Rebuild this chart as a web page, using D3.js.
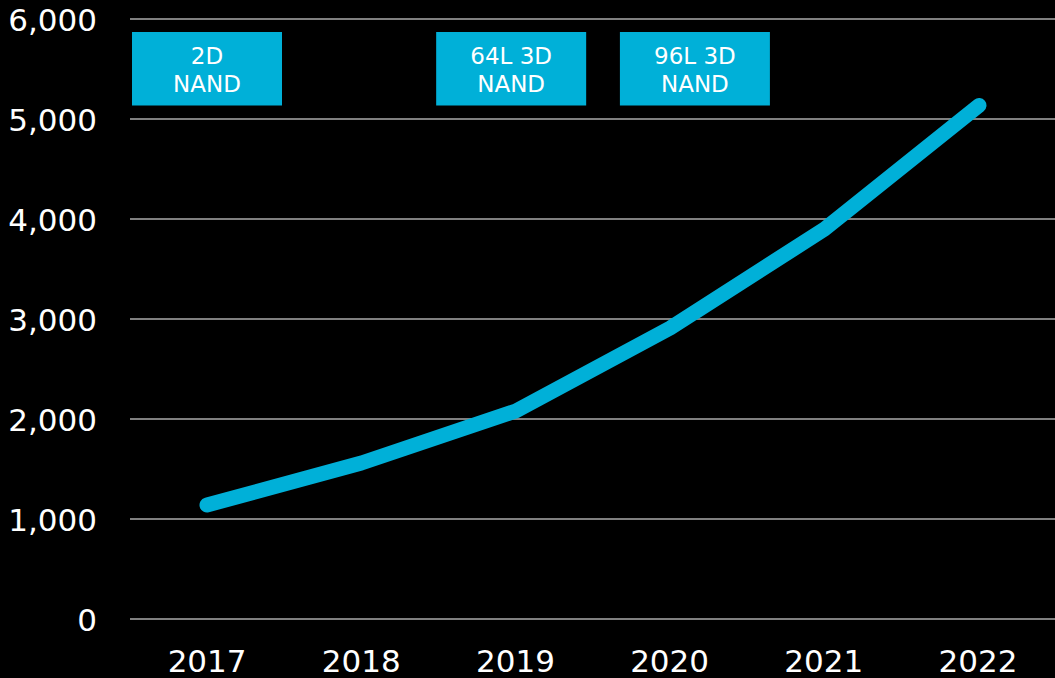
<!DOCTYPE html>
<html>
<head>
<meta charset="utf-8">
<script src="https://cdn.jsdelivr.net/npm/d3@7"></script>
<style>
  html, body { margin: 0; padding: 0; background: #000; }
  svg { display: block; }
</style>
</head>
<body>
<svg id="chart" width="1055" height="678"></svg>
<script>
// ---- Data ----
const years = [2017, 2018, 2019, 2020, 2021, 2022];
const values = [1140, 1560, 2080, 2910, 3900, 5135];
const yTicks = [0, 1000, 2000, 3000, 4000, 5000, 6000];
const annotationLines = [["2D", "NAND"], ["64L 3D", "NAND"], ["96L 3D", "NAND"]];
const annotationYears = [2017, 2018.97, 2020.16];

// ---- Layout ----
const W = 1055, H = 678;
const margin = { left: 130, right: 0, top: 19, bottom: 59 };
const color = "#00b0d8";
const font = "Verdana, 'DejaVu Sans', sans-serif";

const svg = d3.select("#chart");

const y = d3.scaleLinear().domain([0, 6000]).range([H - margin.bottom, margin.top]);
const xBand = d3.scaleBand().domain(years).range([margin.left, W - margin.right]);
const x = d3.scaleLinear().domain([2017, 2022]).range([207, 979]);

// gridlines
svg.append("g")
  .selectAll("line")
  .data(yTicks)
  .join("line")
  .attr("x1", margin.left)
  .attr("x2", W)
  .attr("y1", d => y(d))
  .attr("y2", d => y(d))
  .attr("stroke", "#808080")
  .attr("stroke-width", 2);

// y axis labels
const yAxis = d3.axisLeft(y).tickValues(yTicks).tickFormat(d3.format(",")).tickSize(0).tickPadding(0);
const gy = svg.append("g").attr("transform", "translate(97,0)").call(yAxis);
gy.select(".domain").remove();
gy.selectAll("text")
  .attr("fill", "#fff")
  .attr("font-family", font)
  .attr("font-size", 31)
  .attr("dy", "0.36em");

// x axis labels
const xAxis = d3.axisBottom(xBand).tickSize(0).tickPadding(0);
const gx = svg.append("g").attr("transform", "translate(0,672)").call(xAxis);
gx.select(".domain").remove();
gx.selectAll("text")
  .attr("fill", "#fff")
  .attr("font-family", font)
  .attr("font-size", 31)
  .attr("dy", 0)
  .attr("y", 0);

// line
const line = d3.line()
  .x((d, i) => x(years[i]))
  .y(d => y(d));
svg.append("path")
  .datum(values)
  .attr("d", line)
  .attr("fill", "none")
  .attr("stroke", color)
  .attr("stroke-width", 15)
  .attr("stroke-linecap", "round")
  .attr("stroke-linejoin", "round");

// annotation boxes
const boxW = 150, boxH = 73.5, boxTop = 32;
const ann = svg.append("g")
  .selectAll("g")
  .data(annotationLines.map((lines, i) => ({ lines, year: annotationYears[i] })))
  .join("g")
  .attr("transform", d => `translate(${x(d.year) - boxW / 2},${boxTop})`);
ann.append("rect")
  .attr("width", boxW)
  .attr("height", boxH)
  .attr("fill", color);
ann.append("text")
  .attr("fill", "#fff")
  .attr("font-family", font)
  .attr("font-size", 23)
  .attr("text-anchor", "middle")
  .selectAll("tspan")
  .data(d => d.lines)
  .join("tspan")
  .attr("x", boxW / 2)
  .attr("y", (d, i) => 32 + i * 28)
  .text(d => d);
</script>
</body>
</html>
